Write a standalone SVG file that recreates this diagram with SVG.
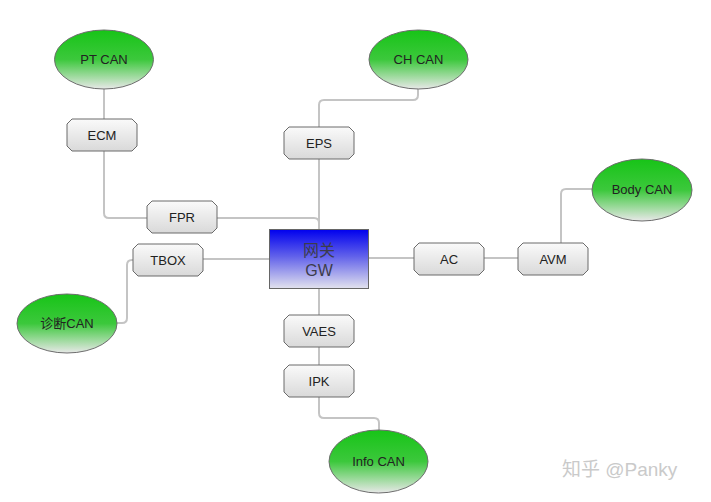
<svg xmlns="http://www.w3.org/2000/svg" xmlns:xlink="http://www.w3.org/1999/xlink" width="711" height="502" viewBox="0 0 711 502">
<style>
.conn{fill:none;stroke:#c4c4c4;stroke-width:2}
.can{stroke:#6d6d6d;stroke-width:1;fill:url(#gGreen)}
.box{stroke:#6a6a6a;stroke-width:1;fill:url(#gBox)}
.gw{stroke:#666;stroke-width:1;fill:url(#gBlue)}
text{font-family:"Liberation Sans",Arial,"Noto Sans CJK SC",sans-serif;font-size:13px;fill:#222;text-anchor:middle}
.gwt{font-size:16px;fill:#3c3c4a}
.wm{font-size:19px;fill:#cacaca;text-anchor:start}
</style>
<defs>
<linearGradient id="gGreen" x1="0" y1="0" x2="0" y2="1">
<stop offset="0" stop-color="#17c417"/>
<stop offset="0.5" stop-color="#3cc83c"/>
<stop offset="1" stop-color="#e8e8e8"/>
</linearGradient>
<linearGradient id="gBox" x1="0" y1="0" x2="0" y2="1">
<stop offset="0" stop-color="#fafafa"/>
<stop offset="1" stop-color="#d9d9d9"/>
</linearGradient>
<linearGradient id="gBlue" x1="0" y1="0" x2="0" y2="1">
<stop offset="0" stop-color="#0000ee"/>
<stop offset="0.45" stop-color="#6060ea"/>
<stop offset="1" stop-color="#e2e2ee"/>
</linearGradient>
<path id="b" d="M5,0 H65 L70,5 V27 L65,32 H5 L0,27 V5 Z"/>
</defs>
<g id="connectors">
<path class="conn" d="M104,89 V119"/>
<path class="conn" d="M104,151 V213 Q104,218 109,218 H147"/>
<path class="conn" d="M217,218 H314 Q319,218 319,223 V229"/>
<path class="conn" d="M418,89 V95 Q418,100 413,100 H324 Q319,100 319,105 V127"/>
<path class="conn" d="M319,159 V229"/>
<path class="conn" d="M203,259 H269"/>
<path class="conn" d="M133,260 H132 Q127,260 127,265 V318 Q127,323 122,323 H117"/>
<path class="conn" d="M369,258 H414"/>
<path class="conn" d="M484,258 H518"/>
<path class="conn" d="M561,243 V194 Q561,189 566,189 H592"/>
<path class="conn" d="M319,289 V315"/>
<path class="conn" d="M319,347 V365"/>
<path class="conn" d="M319,397 V413 Q319,418 324,418 H374 Q379,418 379,423 V430"/>
</g>
<g id="pt-can"><ellipse class="can" cx="104" cy="59.5" rx="49.5" ry="29.5"/><text x="104" y="64">PT CAN</text></g>
<g id="ch-can"><ellipse class="can" cx="418.5" cy="59.5" rx="49.5" ry="29.5"/><text x="418.5" y="64">CH CAN</text></g>
<g id="body-can"><ellipse class="can" cx="642" cy="190" rx="50" ry="31"/><text x="642" y="194">Body CAN</text></g>
<g id="diag-can"><ellipse class="can" cx="67" cy="323.5" rx="50" ry="29.5"/><text x="67" y="328">诊断CAN</text></g>
<g id="info-can"><ellipse class="can" cx="378.5" cy="461.5" rx="49.5" ry="31.5"/><text x="378.5" y="466">Info CAN</text></g>
<g id="ecm"><use xlink:href="#b" href="#b" class="box" x="67" y="119"/><text x="102" y="139.5">ECM</text></g>
<g id="eps"><use xlink:href="#b" href="#b" class="box" x="284" y="127"/><text x="319" y="147.5">EPS</text></g>
<g id="fpr"><use xlink:href="#b" href="#b" class="box" x="147" y="201"/><text x="182" y="221.5">FPR</text></g>
<g id="tbox"><use xlink:href="#b" href="#b" class="box" x="133" y="244"/><text x="168" y="264.5">TBOX</text></g>
<g id="ac"><use xlink:href="#b" href="#b" class="box" x="414" y="243"/><text x="449" y="263.5">AC</text></g>
<g id="avm"><use xlink:href="#b" href="#b" class="box" x="518" y="243"/><text x="553" y="263.5">AVM</text></g>
<g id="vaes"><use xlink:href="#b" href="#b" class="box" x="284" y="315"/><text x="319" y="335.5">VAES</text></g>
<g id="ipk"><use xlink:href="#b" href="#b" class="box" x="284" y="365"/><text x="319" y="385.5">IPK</text></g>
<g id="gw"><rect class="gw" x="269.5" y="229.5" width="99" height="59"/><text class="gwt" x="319" y="256">网关</text><text class="gwt" x="319" y="276">GW</text></g>
<text class="wm" x="562" y="476">知乎 @Panky</text>
</svg>
